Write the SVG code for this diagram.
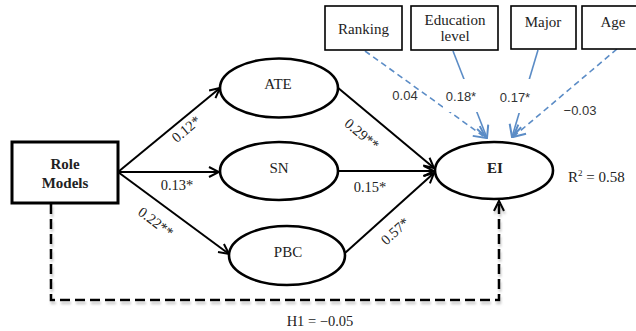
<svg xmlns="http://www.w3.org/2000/svg" width="636" height="331" viewBox="0 0 636 331">
<style>
.node{fill:#fff;stroke:#000;stroke-width:2.6}
.box{fill:#fff;stroke:#000;stroke-width:1.6}
.lbl{font-family:"Liberation Serif","Times New Roman",serif;font-size:15px;fill:#222;text-anchor:middle}
.bold{font-weight:bold}
.el{font-family:"Liberation Serif","Times New Roman",serif;font-size:14.5px;fill:#222;text-anchor:middle}
.bl{font-family:"Liberation Sans",Arial,sans-serif;font-size:13px;fill:#333;text-anchor:middle}
.arr{fill:none;stroke:#000;stroke-width:2;marker-end:url(#ak)}
.dash{fill:none;stroke:#000;stroke-width:2.6;stroke-dasharray:10 5;marker-end:url(#ak2);filter:url(#sh)}
.blue{fill:none;stroke:#5b8cc6;stroke-width:1.6}
.bdash{stroke-dasharray:6 4}
</style>
<defs>
<filter id="sh" x="-5%" y="-5%" width="110%" height="120%">
<feDropShadow dx="1" dy="3" stdDeviation="1" flood-color="#999" flood-opacity="0.5"/>
</filter>
<marker id="ak" viewBox="0 0 12 12" refX="11" refY="6" markerWidth="12" markerHeight="12" orient="auto" markerUnits="userSpaceOnUse">
<path d="M1,1 L11,6 L1,11" fill="none" stroke="#000" stroke-width="2"/>
</marker>
<marker id="ak2" viewBox="0 0 12 12" refX="11" refY="6" markerWidth="12" markerHeight="12" orient="auto" markerUnits="userSpaceOnUse">
<path d="M1,1 L11,6 L1,11" fill="none" stroke="#000" stroke-width="2.2"/>
</marker>
<marker id="ab" viewBox="0 0 14 14" refX="13" refY="7" markerWidth="14" markerHeight="14" orient="auto" markerUnits="userSpaceOnUse">
<path d="M1,1 L13,7 L1,13" fill="none" stroke="#5b8cc6" stroke-width="2"/>
</marker>
</defs>
<rect width="636" height="331" fill="#fff"/>

<g id="connectors">
<line class="arr" x1="118" y1="172" x2="220" y2="88"/>
<line class="arr" x1="118" y1="172" x2="219" y2="172"/>
<line class="arr" x1="118" y1="172" x2="229" y2="254"/>
<line class="arr" x1="337" y1="87" x2="434" y2="168"/>
<line class="arr" x1="338" y1="171" x2="434" y2="171"/>
<line class="arr" x1="345" y1="253" x2="434" y2="173"/>
<path class="dash" d="M51,204 L51,300 L499,300 L499,201"/>
<line class="blue bdash" x1="365" y1="51" x2="486" y2="138" marker-end="url(#ab)"/>
<line class="blue" x1="453" y1="51" x2="487" y2="138" marker-end="url(#ab)"/>
<line class="blue" x1="538" y1="50" x2="512" y2="137" marker-end="url(#ab)"/>
<line class="blue bdash" x1="617" y1="49" x2="513" y2="137" marker-end="url(#ab)"/>
<rect x="443" y="79" width="37" height="33" fill="#fff"/>
<rect x="497" y="79" width="37" height="34" fill="#fff"/>
<text class="bl" x="405" y="100">0.04</text>
<text class="bl" x="461" y="101">0.18*</text>
<text class="bl" x="515" y="102">0.17*</text>
<text class="bl" x="580" y="115">−0.03</text>
<text class="el" transform="translate(186,129) rotate(-40)" y="5">0.12*</text>
<text class="el" x="177" y="190">0.13*</text>
<text class="el" transform="translate(156,222) rotate(37)" y="5">0.22**</text>
<text class="el" transform="translate(362,134) rotate(40)" y="5">0.29**</text>
<text class="el" x="370" y="192">0.15*</text>
<text class="el" transform="translate(395,231) rotate(-42)" y="5">0.57*</text>
<text class="el" x="320" y="326">H1 = −0.05</text>
</g>

<g id="role-models">
<rect x="12" y="142" width="106" height="61" fill="#fff" stroke="#000" stroke-width="3"/>
<text class="lbl bold" x="65" y="169">Role</text>
<text class="lbl bold" x="65" y="188">Models</text>
</g>
<g id="ate">
<ellipse class="node" cx="279" cy="88" rx="59" ry="29.5"/>
<text class="lbl" x="278" y="89">ATE</text>
</g>
<g id="sn">
<ellipse class="node" cx="279" cy="171" rx="59" ry="29"/>
<text class="lbl" x="279" y="173">SN</text>
</g>
<g id="pbc">
<ellipse class="node" cx="287" cy="255.5" rx="58" ry="29.5"/>
<text class="lbl" x="288" y="257">PBC</text>
</g>
<g id="ei">
<ellipse class="node" cx="494" cy="170.5" rx="59" ry="28.5"/>
<text class="lbl bold" x="495" y="173">EI</text>
<text class="lbl" x="568" y="182" style="text-anchor:start">R<tspan font-size="9" dy="-6">2</tspan><tspan dy="6"> = 0.58</tspan></text>
</g>
<g id="ranking">
<rect class="box" x="325" y="6" width="77" height="44"/>
<text class="lbl" x="363.5" y="34">Ranking</text>
</g>
<g id="education">
<rect class="box" x="411" y="6" width="87" height="44"/>
<text class="lbl" x="455" y="25">Education</text>
<text class="lbl" x="455" y="41">level</text>
</g>
<g id="major">
<rect class="box" x="511" y="6" width="65" height="43"/>
<text class="lbl" x="543" y="27">Major</text>
</g>
<g id="age">
<rect class="box" x="582" y="6" width="60" height="43"/>
<text class="lbl" x="613" y="27">Age</text>
</g>
</svg>
